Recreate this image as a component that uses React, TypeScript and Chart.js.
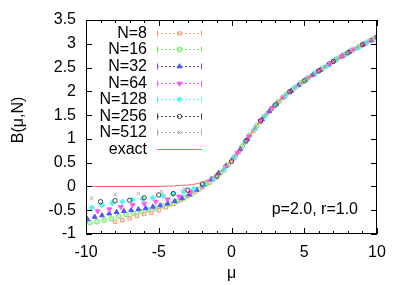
import React, { useEffect, useRef } from "react";
import { Chart, registerables } from "chart.js";
import { drawPoint } from "chart.js/helpers";

Chart.register(...registerables);

// ---------- data ----------
const seriesLabels = ["N=8", "N=16", "N=32", "N=64", "N=128", "N=256", "N=512"];
const exactLabel = "exact";
const annotation = "p=2.0, r=1.0";
const xTitle = "μ";
const yTitle = "B(μ,N)";

const mu8 = [-8, -7.5, -7, -6.5, -6, -5.5, -5, -4.5, -4, -3.5, -3, -2.5, -2, -1.5, -1, -0.5, 0, 0.5, 1, 1.5, 2, 2.5, 3, 3.5, 4, 4.5, 5, 5.5, 6, 6.5, 7, 7.5, 8, 8.5, 9, 9.5, 10];
const b8 = [-0.74, -0.71, -0.67, -0.62, -0.58, -0.55, -0.5, -0.44, -0.37, -0.29, -0.2, -0.11, -0.02, 0.08, 0.19, 0.34, 0.52, 0.72, 0.94, 1.17, 1.37, 1.55, 1.71, 1.86, 1.99, 2.11, 2.22, 2.33, 2.43, 2.53, 2.63, 2.72, 2.81, 2.9, 2.98, 3.06, 3.14];

const mu16 = [-9.75, -9.25, -8.75, -8.25, -7.75, -7.25, -6.75, -6.25, -5.75, -5.25, -4.75, -4.25, -3.75, -3.25, -2.75, -2.25, -1.75, -1.25, -0.75, -0.25, 0.25, 0.75, 1.25, 1.75, 2.25, 2.75, 3.25, 3.75, 4.25, 4.75, 5.25, 5.75, 6.25, 6.75, 7.25, 7.75, 8.25, 8.75, 9.25, 9.75];
const b16 = [-0.76, -0.74, -0.71, -0.68, -0.63, -0.59, -0.56, -0.53, -0.49, -0.46, -0.41, -0.37, -0.32, -0.24, -0.16, -0.06, 0.05, 0.16, 0.29, 0.45, 0.63, 0.85, 1.07, 1.28, 1.47, 1.63, 1.79, 1.93, 2.05, 2.17, 2.28, 2.38, 2.48, 2.58, 2.68, 2.77, 2.86, 2.94, 3.02, 3.1];

const mu32 = [-9.9, -9.4, -8.9, -8.4, -7.9, -7.4, -6.9, -6.4, -5.9, -5.4, -4.9, -4.4, -3.9, -3.4, -2.9, -2.4, -1.9, -1.4, -0.9, -0.4, 0.1, 0.6, 1.1, 1.6, 2.1, 2.6, 3.1, 3.6, 4.1, 4.6, 5.1, 5.6, 6.1, 6.6, 7.1, 7.6, 8.1, 8.6, 9.1, 9.6];
const b32 = [-0.69, -0.64, -0.61, -0.57, -0.54, -0.52, -0.5, -0.48, -0.46, -0.43, -0.4, -0.36, -0.31, -0.25, -0.17, -0.07, 0.04, 0.15, 0.28, 0.43, 0.59, 0.78, 1.0, 1.22, 1.41, 1.58, 1.74, 1.88, 2.01, 2.13, 2.24, 2.35, 2.45, 2.55, 2.65, 2.74, 2.83, 2.91, 2.99, 3.07];

const mu64 = [-9.2, -8.4, -7.6, -6.8, -6.0, -5.2, -4.4, -3.6, -2.8, -2.0, -1.2, -0.4, 0.4, 1.2, 2.0, 2.8, 3.6, 4.4, 5.2, 6.0, 6.8, 7.6, 8.4, 9.2, 10.0];
const b64 = [-0.52, -0.48, -0.43, -0.39, -0.36, -0.32, -0.27, -0.21, -0.12, 0.01, 0.16, 0.41, 0.7, 1.05, 1.38, 1.65, 1.89, 2.09, 2.27, 2.43, 2.59, 2.74, 2.88, 3.01, 3.14];

const mu128 = [-9.6, -8.9, -8.2, -7.5, -6.8, -6.1, -5.4, -4.7, -4.0, -3.3, -2.6, -1.9, -1.2, -0.5, 0.2, 0.9, 1.6, 2.3, 3.0, 3.7, 4.4, 5.1, 5.8, 6.5, 7.2, 7.9, 8.6, 9.3, 10.0];
const b128 = [-0.45, -0.39, -0.35, -0.32, -0.28, -0.26, -0.24, -0.2, -0.16, -0.11, -0.05, 0.05, 0.17, 0.36, 0.62, 0.92, 1.21, 1.48, 1.71, 1.91, 2.09, 2.24, 2.39, 2.53, 2.67, 2.79, 2.91, 3.03, 3.14];

const mu256 = [-9, -8, -7, -6, -5, -4, -3, -2, -1, 0, 1, 2, 3, 4, 5, 6, 7, 8, 9, 10];
const b256 = [-0.32, -0.3, -0.29, -0.24, -0.18, -0.15, -0.08, 0.05, 0.22, 0.53, 0.96, 1.38, 1.71, 1.99, 2.22, 2.43, 2.63, 2.81, 2.98, 3.14];

const mu512 = [-9.6, -8.0, -6.4, -4.8, -3.2, -1.6, 0, 1.6, 3.2, 4.8, 6.4, 8.0, 9.6];
const b512 = [-0.25, -0.17, -0.15, -0.11, -0.05, 0.12, 0.54, 1.22, 1.77, 2.18, 2.51, 2.81, 3.08];

const exactMu = [-10, -9, -8, -7, -6, -5, -4.5, -4, -3.5, -3, -2.5, -2, -1.5, -1, -0.5, 0, 0.5, 1, 1.5, 2, 2.5, 3, 3.5, 4, 4.5, 5, 5.5, 6, 6.5, 7, 7.5, 8, 8.5, 9, 9.5, 10];
const exactB = [0, 0, 0, 0, 0, 0.002, 0.005, 0.01, 0.02, 0.03, 0.05, 0.09, 0.15, 0.24, 0.37, 0.55, 0.74, 0.96, 1.18, 1.38, 1.55, 1.71, 1.86, 1.99, 2.11, 2.22, 2.33, 2.43, 2.53, 2.63, 2.72, 2.81, 2.9, 2.98, 3.06, 3.14];

const seriesMu = [mu8, mu16, mu32, mu64, mu128, mu256, mu512];
const seriesB = [b8, b16, b32, b64, b128, b256, b512];

const xMin = -10, xMax = 10, xStep = 5, xMinorStep = 1;
const yMin = -1, yMax = 3.5, yStep = 0.5;

// ---------- styles ----------
const FONT = "'Liberation Sans', Arial, Helvetica, sans-serif";
const styles = [
  { color: "#f59a70", fill: "rgba(245,154,112,0.3)", pointStyle: "rect", radius: 2.4, rotation: 0 },
  { color: "#66ee66", fill: "rgba(102,238,102,0.4)", pointStyle: "circle", radius: 2.4, rotation: 0 },
  { color: "#5555ff", fill: "#5555ff", pointStyle: "triangle", radius: 2.8, rotation: 0 },
  { color: "#ff55ff", fill: "#ff55ff", pointStyle: "triangle", radius: 2.8, rotation: 180 },
  { color: "#55f5f5", fill: "#55f5f5", pointStyle: "rectRot", radius: 2.8, rotation: 0 },
  { color: "#404040", fill: "rgba(255,255,255,0)", pointStyle: "circle", radius: 2.2, rotation: 0 },
  { color: "#a8a8a8", fill: "#a8a8a8", pointStyle: "crossRot", radius: 2.6, rotation: 0 },
];
const exactColor = "#ff6262";

const toPts = (xs: number[], ys: number[]) => xs.map((x, i) => ({ x, y: ys[i] }));
const fmt = (v: any) => String(Math.round(Number(v) * 10) / 10);

const framePlugin = {
  id: "gnuframe",
  afterDraw(chart: any) {
    const { ctx, chartArea: a, scales } = chart;
    const xs = scales.x, ys = scales.y;
    ctx.save();
    // border
    ctx.strokeStyle = "#000";
    ctx.lineWidth = 1;
    ctx.strokeRect(Math.round(a.left) + 0.5, Math.round(a.top) + 0.5, Math.round(a.right - a.left) - 1, Math.round(a.bottom - a.top) - 1);
    // ticks (inward, mirrored)
    ctx.beginPath();
    for (let v = xMin; v <= xMax + 1e-9; v += xMinorStep) {
      const px = Math.round(xs.getPixelForValue(v)) + 0.5;
      const len = Math.abs(v % xStep) < 1e-9 ? 6 : 3;
      ctx.moveTo(px, a.bottom);
      ctx.lineTo(px, a.bottom - len);
      ctx.moveTo(px, a.top);
      ctx.lineTo(px, a.top + len);
    }
    for (let v = yMin; v <= yMax + 1e-9; v += yStep) {
      const py = Math.round(ys.getPixelForValue(v)) + 0.5;
      ctx.moveTo(a.left, py);
      ctx.lineTo(a.left + 6, py);
      ctx.moveTo(a.right, py);
      ctx.lineTo(a.right - 6, py);
    }
    ctx.stroke();

    // axis titles
    ctx.fillStyle = "#000";
    ctx.font = `16px ${FONT}`;
    ctx.textAlign = "center";
    ctx.textBaseline = "alphabetic";
    ctx.fillText(xTitle, (a.left + a.right) / 2, 278);
    ctx.save();
    ctx.translate(23, 120);
    ctx.rotate(-Math.PI / 2);
    ctx.fillText(yTitle, 0, 0);
    ctx.restore();

    // annotation
    ctx.textAlign = "right";
    ctx.textBaseline = "middle";
    ctx.fillText(annotation, a.right - 19, a.bottom - 24);

    // key
    const labels = [...seriesLabels, exactLabel];
    const textX = a.left + 61;
    const x0 = a.left + 71, x1 = a.left + 116;
    for (let i = 0; i < labels.length; i++) {
      const y = Math.round(a.top + 12.7 + i * 16.6) + 0.5;
      ctx.fillStyle = "#000";
      ctx.textAlign = "right";
      ctx.textBaseline = "middle";
      ctx.fillText(labels[i], textX, y + 0.5);
      if (i < seriesLabels.length) {
        const s = styles[i];
        ctx.strokeStyle = s.color;
        ctx.lineWidth = 1;
        ctx.setLineDash([2, 2]);
        ctx.beginPath();
        ctx.moveTo(x0, y);
        ctx.lineTo(x1, y);
        ctx.stroke();
        ctx.setLineDash([]);
        ctx.beginPath();
        ctx.moveTo(x0 + 0.5, y - 3);
        ctx.lineTo(x0 + 0.5, y + 3);
        ctx.moveTo(x1 - 0.5, y - 3);
        ctx.lineTo(x1 - 0.5, y + 3);
        ctx.stroke();
        ctx.fillStyle = s.fill;
        ctx.strokeStyle = s.color;
        ctx.lineWidth = 1;
        drawPoint(ctx, { pointStyle: s.pointStyle, radius: s.radius, rotation: s.rotation, borderWidth: 1 } as any, (x0 + x1) / 2, y);
      } else {
        ctx.strokeStyle = exactColor;
        ctx.lineWidth = 1;
        ctx.setLineDash([]);
        ctx.beginPath();
        ctx.moveTo(x0, y);
        ctx.lineTo(x1, y);
        ctx.stroke();
      }
    }
    ctx.restore();
  },
};

export default function App() {
  const ref = useRef<HTMLCanvasElement>(null);
  useEffect(() => {
    document.body.style.margin = "0";
    const datasets: any[] = seriesLabels.map((label, i) => ({
      type: "scatter",
      label,
      data: toPts(seriesMu[i], seriesB[i]),
      showLine: false,
      pointStyle: styles[i].pointStyle,
      pointRadius: styles[i].radius,
      pointRotation: styles[i].rotation,
      pointBorderWidth: 1,
      borderColor: styles[i].color,
      backgroundColor: styles[i].fill,
      order: seriesLabels.length - i,
    }));
    datasets.push({
      type: "line",
      label: exactLabel,
      data: toPts(exactMu, exactB),
      borderColor: exactColor,
      borderWidth: 1,
      pointRadius: 0,
      cubicInterpolationMode: "monotone",
      fill: false,
      order: 0,
    });
    const tickFont = { family: FONT, size: 16 };
    const chart = new Chart(ref.current!, {
      type: "scatter",
      data: { datasets },
      options: {
        responsive: false,
        animation: false,
        devicePixelRatio: 1,
        layout: { padding: { left: 0, right: 30, top: 20, bottom: 0 } },
        plugins: { legend: { display: false }, tooltip: { enabled: false } },
        scales: {
          x: {
            type: "linear",
            min: xMin,
            max: xMax,
            ticks: { stepSize: xStep, padding: 9, color: "#000", font: tickFont, maxRotation: 0, autoSkip: false, callback: fmt },
            grid: { display: false, drawTicks: false },
            border: { display: false },
            afterFit: (s: any) => { s.height = 51; },
          },
          y: {
            type: "linear",
            min: yMin,
            max: yMax,
            ticks: { stepSize: yStep, padding: 10, color: "#000", font: tickFont, autoSkip: false, callback: fmt },
            grid: { display: false, drawTicks: false },
            border: { display: false },
            afterFit: (s: any) => { s.width = 86; },
          },
        },
      } as any,
      plugins: [framePlugin],
    });
    return () => chart.destroy();
  }, []);
  return (
    <div style={{ position: "fixed", left: 0, top: 0, width: 407, height: 285, background: "#fff" }}>
      <canvas ref={ref} width={407} height={285} style={{ width: 407, height: 285, display: "block" }} />
    </div>
  );
}
